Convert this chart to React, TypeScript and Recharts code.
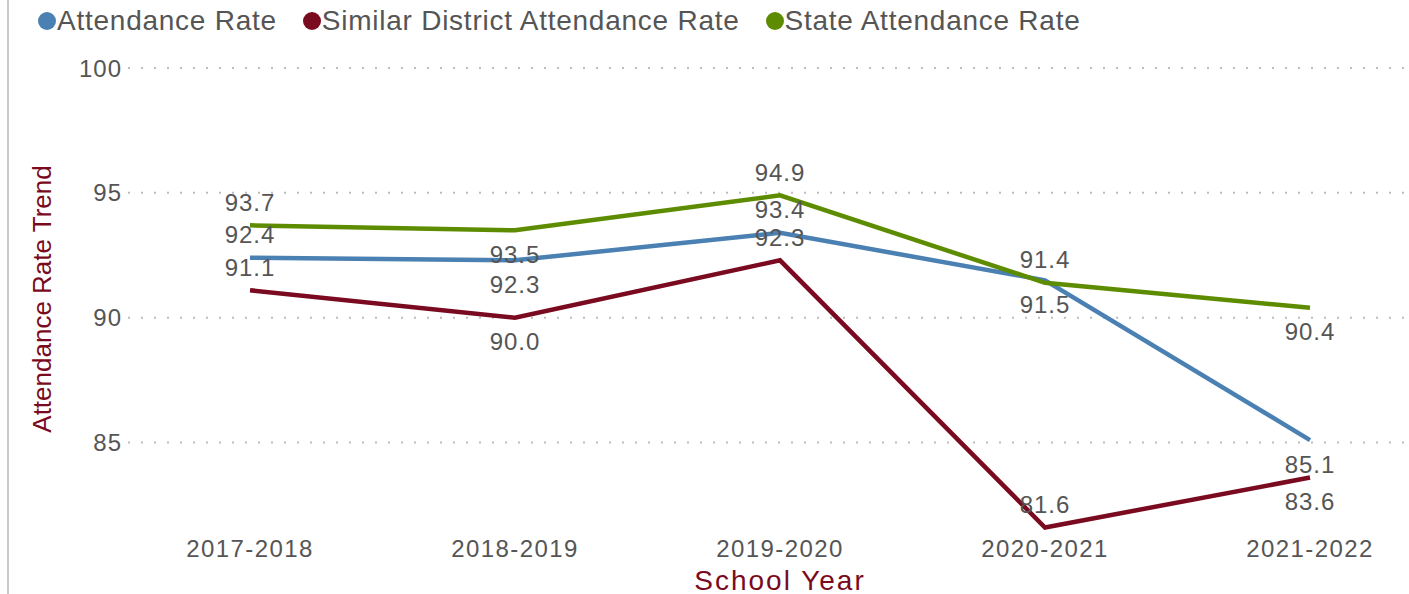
import { LineChart, Line, XAxis, YAxis, ReferenceLine, Legend, LabelList } from "recharts"

const years = ["2017-2018", "2018-2019", "2019-2020", "2020-2021", "2021-2022"]
const attendance = [92.4, 92.3, 93.4, 91.5, 85.1]
const similarDistrict = [91.1, 90.0, 92.3, 81.6, 83.6]
const stateRate = [93.7, 93.5, 94.9, 91.4, 90.4]
const yTicks = [85, 90, 95, 100]

// where each value label sits relative to its point
const attendanceLabelPos = ["above", "below", "above", "below", "below"]
const similarLabelPos = ["above", "below", "above", "above", "below"]
const stateLabelPos = ["above", "below", "above", "above", "below"]

const series = [
  { key: "attendance", name: "Attendance Rate", color: "#4a80b2", pos: attendanceLabelPos },
  { key: "similar", name: "Similar District Attendance Rate", color: "#7a0a20", pos: similarLabelPos },
  { key: "state", name: "State Attendance Rate", color: "#5e8c00", pos: stateLabelPos },
]

const chartData = years.map((year, i) => ({
  year,
  attendance: attendance[i],
  similar: similarDistrict[i],
  state: stateRate[i],
}))

const font = "Arial, 'Liberation Sans', sans-serif"
const titleColor = "#7a0a20"
const textColor = "#555"

function makeLabel(pos: string[]) {
  return (props: any) => {
    const { x, y, value, index } = props
    const dy = pos[index] === "above" ? -23 : 24
    return (
      <text
        x={x}
        y={y + dy}
        textAnchor="middle"
        dominantBaseline="central"
        fill={textColor}
        fontSize={24}
        letterSpacing={1}
        fontFamily={font}
      >
        {Number(value).toFixed(1)}
      </text>
    )
  }
}

function LegendContent() {
  return (
    <div
      style={{
        display: "flex",
        alignItems: "center",
        fontFamily: font,
        fontSize: 28,
        letterSpacing: 0.75,
        color: "#555",
        lineHeight: "32px",
      }}
    >
      {series.map((s) => (
        <div key={s.key} style={{ display: "flex", alignItems: "center", marginRight: 26 }}>
          <span
            style={{
              display: "inline-block",
              width: 18,
              height: 18,
              borderRadius: 9,
              background: s.color,
              marginRight: 1,
            }}
          />
          <span>{s.name}</span>
        </div>
      ))}
    </div>
  )
}

export default function App() {
  return (
    <div style={{ position: "absolute", left: 0, top: 0, width: 1409, height: 594, background: "#fff" }}>
      <div style={{ position: "absolute", left: 7, top: 0, width: 2, height: 594, background: "#c8c8c8" }} />
      <LineChart
        width={1409}
        height={594}
        data={chartData}
        margin={{ top: 36, right: 0, left: 0, bottom: 0 }}
      >
        {yTicks.map((t) => (
          <ReferenceLine key={t} y={t} stroke="#bdbdbd" strokeWidth={2} strokeDasharray="2 11" />
        ))}
        <XAxis
          dataKey="year"
          padding={{ left: 122, right: 99 }}
          axisLine={false}
          tickLine={false}
          tickSize={0}
          tickMargin={10}
          height={64}
          tick={{ fill: textColor, fontSize: 24, letterSpacing: 1.4, fontFamily: font }}
          label={(props: any) => {
            const vb = props.viewBox
            return (
              <text
                x={780}
                y={vb.y + 50}
                textAnchor="middle"
                dominantBaseline="central"
                fill={titleColor}
                fontSize={28}
                letterSpacing={2}
                fontFamily={font}
              >
                School Year
              </text>
            )
          }}
        />
        <YAxis
          domain={[81.5, 100]}
          ticks={yTicks}
          width={128}
          axisLine={false}
          tickLine={false}
          tickSize={0}
          tickMargin={6}
          tick={{ fill: textColor, fontSize: 24, letterSpacing: 1, fontFamily: font }}
          label={(props: any) => {
            const vb = props.viewBox
            const cx = 42
            const cy = vb.y + vb.height / 2
            return (
              <text
                x={cx}
                y={cy}
                transform={`rotate(-90 ${cx} ${cy})`}
                textAnchor="middle"
                dominantBaseline="central"
                fill={titleColor}
                fontSize={26}
                fontFamily={font}
              >
                Attendance Rate Trend
              </text>
            )
          }}
        />
        <Legend
          verticalAlign="top"
          align="left"
          content={<LegendContent />}
          wrapperStyle={{ top: 5, left: 38, width: "auto" }}
        />
        {series.map((s) => (
          <Line
            key={s.key}
            type="linear"
            dataKey={s.key}
            name={s.name}
            stroke={s.color}
            strokeWidth={4.5}
            dot={false}
            activeDot={false}
            isAnimationActive={false}
          >
            <LabelList dataKey={s.key} content={makeLabel(s.pos)} />
          </Line>
        ))}
      </LineChart>
    </div>
  )
}
